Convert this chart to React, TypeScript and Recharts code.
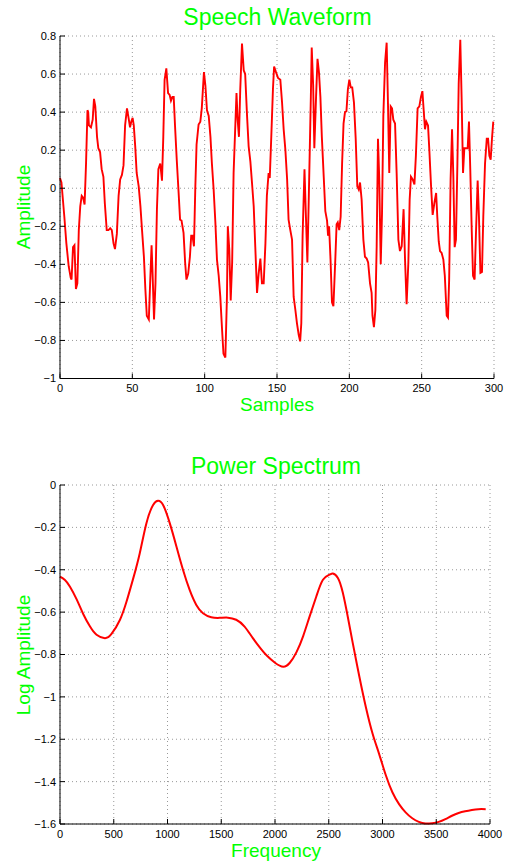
import React from 'react'
import { LineChart, Line, XAxis, YAxis, CartesianGrid } from 'recharts'

// speech waveform (sample index, amplitude)
const waveSamples = [
  0, 1, 3, 4.4, 6, 7.4, 8, 9, 10, 11, 12, 13, 14, 15, 16, 17, 18, 19, 19.5, 20,
  21.4, 22.6, 23.5, 24.4, 25.6, 26.5, 27.7, 28.8, 30, 31, 32.3, 33.5, 34.7, 35.8, 37, 38, 39.3, 40.5, 41.6, 42.8,
  43.9, 45, 46.3, 47.4, 48.4, 49.3, 50.2, 51, 52, 53, 54.4, 55.6, 56.7, 58, 59, 60, 61.4, 62.3, 63.3, 64,
  65, 66, 67, 68, 69.3, 70.5, 71.4, 72.3, 73.5, 74.7, 75.8, 76.7, 77.7, 78.6, 79.5, 80.7, 82, 83, 84, 85.4,
  86.5, 87.4, 88.6, 89.8, 90.7, 91.6, 92.6, 93.5, 94.4, 95.8, 97, 98, 99.5, 100.5, 101.6, 102.8, 104, 105, 106.2, 107.4,
  108.5, 109.7, 110.8, 112, 113, 114.3, 115.4, 116, 117, 118, 119, 120, 121, 122, 122.8, 123.7, 124.6, 125.8, 127, 128,
  129.3, 130.4, 131.6, 132.7, 133.9, 135, 136.2, 137.3, 138.5, 139.6, 140.8, 142, 143, 144.2, 145, 146, 147.2, 148, 149.3, 150.7,
  152.3, 153.5, 154.6, 155.8, 157, 158, 159.2, 160.4, 161.5, 162.7, 163.8, 165, 166, 166.8, 167.7, 169, 170, 171, 172, 173.4,
  174, 175, 175.8, 177, 178, 179, 180, 181, 182.3, 183.4, 184.6, 185.3, 186, 187, 188, 189, 190.3, 191.2, 192, 193,
  194, 195, 196, 197, 198, 199, 200, 201, 202, 203.2, 204.4, 205.5, 206.5, 207.4, 208.5, 209.7, 210.8, 212, 213, 214.3,
  215.4, 216, 217, 218, 218.9, 219.8, 220.7, 221.7, 222.6, 223.5, 224.7, 225.8, 226.7, 227.6, 228.6, 229.5, 230.4, 231.6, 232.7, 233.9,
  235, 236.2, 237.5, 238.5, 239.6, 240.8, 241.7, 242.6, 243.8, 245, 246, 247.2, 248.4, 249.5, 250.5, 251.4, 252.3, 253.2, 254.4, 255.3,
  256.5, 257.6, 258.8, 260, 260.8, 261.8, 262.7, 263.8, 265, 266, 267.3, 268.2, 269, 270, 271, 271.9, 272.8, 273.7, 274.7, 275.6,
  276.7, 277.6, 278.6, 279.5, 280.6, 281.8, 282.7, 283.6, 284.6, 285.5, 286.6, 287.6, 288.7, 289.6, 290.6, 291.7, 292.6, 293.8, 295, 295.9,
  296.8, 297.7, 298.6, 299.5,
]
const waveAmplitude = [
  0.054, 0.03, -0.15, -0.29, -0.41, -0.47, -0.48, -0.31, -0.3, -0.53, -0.5, -0.22, -0.095, -0.04, -0.05, -0.086, 0.13, 0.41, 0.4, 0.33,
  0.32, 0.36, 0.47, 0.43, 0.27, 0.21, 0.19, 0.1, 0.06, -0.08, -0.22, -0.22, -0.21, -0.22, -0.29, -0.32, -0.24, -0.04, 0.046, 0.07,
  0.12, 0.33, 0.42, 0.37, 0.32, 0.35, 0.37, 0.33, 0.22, 0.08, 0.01, -0.095, -0.22, -0.36, -0.53, -0.67, -0.69, -0.5, -0.3, -0.45,
  -0.69, -0.5, -0.11, 0.1, 0.13, 0.04, 0.27, 0.57, 0.63, 0.5, 0.49, 0.46, 0.48, 0.48, 0.33, 0.15, -0.025, -0.165, -0.17, -0.235,
  -0.39, -0.48, -0.45, -0.36, -0.25, -0.25, -0.305, -0.007, 0.23, 0.335, 0.35, 0.42, 0.61, 0.54, 0.41, 0.38, 0.27, 0.13, -0.007, -0.18,
  -0.375, -0.46, -0.57, -0.74, -0.87, -0.89, -0.57, -0.2, -0.32, -0.59, -0.39, 0.08, 0.29, 0.5, 0.36, 0.27, 0.52, 0.76, 0.62, 0.6,
  0.38, 0.22, 0.14, 0.03, -0.095, -0.31, -0.55, -0.45, -0.37, -0.5, -0.5, -0.29, -0.04, 0.08, 0.054, 0.26, 0.52, 0.64, 0.61, 0.58,
  0.57, 0.45, 0.31, 0.2, 0.046, -0.165, -0.22, -0.27, -0.57, -0.64, -0.71, -0.77, -0.805, -0.71, -0.25, 0.1, -0.15, -0.39, -0.04, 0.48,
  0.74, 0.54, 0.21, 0.48, 0.68, 0.61, 0.48, 0.27, 0.06, -0.12, -0.17, -0.25, -0.2, -0.375, -0.6, -0.62, -0.375, -0.19, -0.18, -0.22,
  -0.15, 0.13, 0.34, 0.4, 0.405, 0.52, 0.57, 0.53, 0.53, 0.45, 0.26, 0.01, -0.007, 0.03, -0.06, -0.27, -0.36, -0.37, -0.39, -0.5,
  -0.55, -0.67, -0.73, -0.64, -0.305, 0.26, 0.046, -0.4, -0.13, 0.38, 0.66, 0.765, 0.45, 0.08, 0.43, 0.42, 0.36, 0.34, 0.08, -0.27,
  -0.33, -0.305, -0.11, -0.375, -0.61, -0.39, -0.06, 0.06, 0.046, 0.02, 0.17, 0.42, 0.43, 0.48, 0.51, 0.41, 0.31, 0.35, 0.33, 0.2,
  0.01, -0.14, -0.077, -0.025, -0.15, -0.28, -0.33, -0.34, -0.375, -0.46, -0.67, -0.68, -0.48, 0.046, 0.31, 0.06, -0.31, -0.27, 0.13, 0.55,
  0.78, 0.48, 0.08, 0.21, 0.21, 0.21, 0.35, 0.1, -0.22, -0.46, -0.48, -0.22, 0.04, -0.15, -0.445, -0.44, -0.15, 0.13, 0.26, 0.26,
  0.17, 0.15, 0.26, 0.35,
]

// power spectrum (Hz, log amplitude)
const spectrumFreq = [
  0, 46, 93, 155, 217, 278, 340, 418, 479, 557, 619, 680, 742, 804, 866, 912, 959, 1021, 1083, 1144,
  1206, 1268, 1330, 1407, 1485, 1562, 1639, 1717, 1794, 1871, 1923, 2000, 2077, 2138, 2200, 2262, 2323, 2385, 2446, 2508,
  2538, 2585, 2631, 2677, 2723, 2785, 2846, 2908, 2969, 3031, 3092, 3154, 3215, 3277, 3338, 3400, 3462, 3523, 3585, 3646,
  3708, 3769, 3831, 3892, 3960,
]
const spectrumLogAmp = [
  -0.432, -0.448, -0.48, -0.54, -0.61, -0.667, -0.707, -0.723, -0.703, -0.637, -0.55, -0.443, -0.322, -0.18, -0.094, -0.074, -0.094, -0.18, -0.29, -0.4,
  -0.495, -0.566, -0.605, -0.624, -0.627, -0.626, -0.636, -0.668, -0.723, -0.775, -0.805, -0.839, -0.858, -0.839, -0.789, -0.713, -0.619, -0.525, -0.447, -0.423,
  -0.418, -0.439, -0.509, -0.622, -0.745, -0.905, -1.05, -1.174, -1.27, -1.37, -1.45, -1.506, -1.545, -1.573, -1.59, -1.598, -1.596, -1.59, -1.577, -1.561,
  -1.548, -1.54, -1.534, -1.53, -1.53,
]

const waveXTicks = [0, 50, 100, 150, 200, 250, 300]
const waveYTicks = [-1, -0.8, -0.6, -0.4, -0.2, 0, 0.2, 0.4, 0.6, 0.8]
const specXTicks = [0, 500, 1000, 1500, 2000, 2500, 3000, 3500, 4000]
const specYTicks = [-1.6, -1.4, -1.2, -1, -0.8, -0.6, -0.4, -0.2, 0]

const waveData = waveSamples.map((s, i) => ({ s, v: waveAmplitude[i] }))
const specData = spectrumFreq.map((f, i) => ({ f, v: spectrumLogAmp[i] }))

const GREEN = '#00ff00'
const RED = '#ff0000'
const FONT = '"Liberation Sans", Arial, Helvetica, sans-serif'
const tickStyle = { fontSize: 11, fill: '#000', fontFamily: FONT }
const axisStroke = { stroke: '#000', strokeWidth: 1 }
const minus = (v: number) => String(v).replace('-', '\u2212')

const App: React.FC = () => {
  return (
    <div style={{ position: 'absolute', left: 0, top: 0, width: 505, height: 863, background: '#fff' }}>
      <div style={{ position: 'absolute', left: 0, top: 0 }}>
        <LineChart width={505} height={420} data={waveData} margin={{ top: 36, right: 11, bottom: 21.5, left: 10 }}>
          <CartesianGrid xAxisId="b" yAxisId="l" stroke="#999" strokeDasharray="1 3" />
          <XAxis xAxisId="b" dataKey="s" type="number" domain={[0, 300]} ticks={waveXTicks} interval={0}
            height={20} tickSize={-5} tickMargin={11} tick={tickStyle} axisLine={axisStroke} tickLine={axisStroke} />
          <XAxis xAxisId="t" orientation="top" dataKey="s" type="number" domain={[0, 300]} ticks={waveXTicks} interval={0}
            height={0} tickSize={-5} tick={false} axisLine={axisStroke} tickLine={axisStroke} />
          <YAxis yAxisId="l" type="number" domain={[-1, 0.8]} ticks={waveYTicks} interval={0} width={50}
            tickSize={-5} tickMargin={9} tick={tickStyle} tickFormatter={minus} axisLine={axisStroke} tickLine={axisStroke} />
          <YAxis yAxisId="r" orientation="right" type="number" domain={[-1, 0.8]} ticks={waveYTicks} interval={0} width={0}
            tickSize={-5} tick={false} axisLine={axisStroke} tickLine={axisStroke} />
          <Line xAxisId="b" yAxisId="l" dataKey="v" type="linear" stroke={RED} strokeWidth={1.9}
            dot={false} isAnimationActive={false} />
        </LineChart>
      </div>
      <div style={{ position: 'absolute', left: 0, top: 440 }}>
        <LineChart width={505} height={423} data={specData} margin={{ top: 45, right: 15, bottom: 19, left: 10 }}>
          <CartesianGrid xAxisId="b" yAxisId="l" stroke="#999" strokeDasharray="1 3" />
          <XAxis xAxisId="b" dataKey="f" type="number" domain={[0, 4000]} ticks={specXTicks} interval={0}
            height={20} tickSize={-5} tickMargin={11} tick={tickStyle} axisLine={axisStroke} tickLine={axisStroke} />
          <XAxis xAxisId="t" orientation="top" dataKey="f" type="number" domain={[0, 4000]} ticks={specXTicks} interval={0}
            height={0} tickSize={-5} tick={false} axisLine={axisStroke} tickLine={axisStroke} />
          <YAxis yAxisId="l" type="number" domain={[-1.6, 0]} ticks={specYTicks} interval={0} width={50}
            tickSize={-5} tickMargin={9} tick={tickStyle} tickFormatter={minus} axisLine={axisStroke} tickLine={axisStroke} />
          <YAxis yAxisId="r" orientation="right" type="number" domain={[-1.6, 0]} ticks={specYTicks} interval={0} width={0}
            tickSize={-5} tick={false} axisLine={axisStroke} tickLine={axisStroke} />
          <Line xAxisId="b" yAxisId="l" dataKey="v" type="natural" stroke={RED} strokeWidth={2}
            dot={false} isAnimationActive={false} />
        </LineChart>
      </div>
      <svg width={505} height={863} style={{ position: 'absolute', left: 0, top: 0, pointerEvents: 'none' }}
        fontFamily={FONT} fill={GREEN} textAnchor="middle">
        <text x={277.5} y={25} fontSize={23}>Speech Waveform</text>
        <text x={277} y={411} fontSize={19}>Samples</text>
        <text transform="translate(30,207) rotate(-90)" fontSize={19}>Amplitude</text>
        <text x={276} y={474} fontSize={23}>Power Spectrum</text>
        <text x={276} y={857} fontSize={19}>Frequency</text>
        <text transform="translate(30,655) rotate(-90)" fontSize={19}>Log Amplitude</text>
      </svg>
    </div>
  )
}

export default App
